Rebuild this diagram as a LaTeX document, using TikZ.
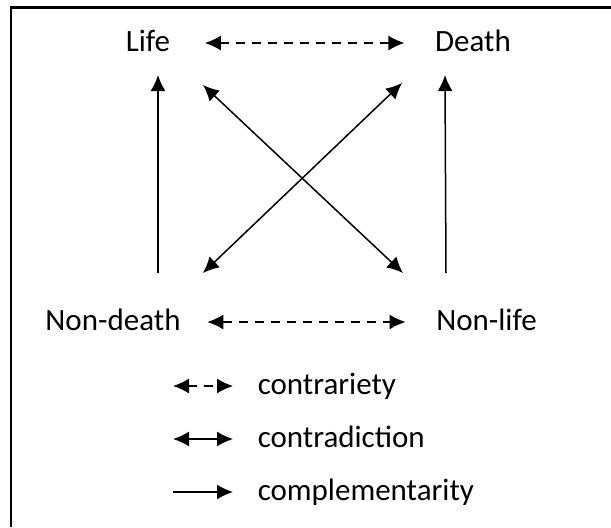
\documentclass[tikz,border=0pt]{standalone}
\usepackage{fontspec}
\setmainfont{Carlito}
\usetikzlibrary{arrows.meta}

\begin{document}
\begin{tikzpicture}[x=0.5pt, y=-0.5pt, line width=0.75pt, >={Latex[length=8pt,width=7.5pt]},
	every node/.style={font=\fontsize{15.5}{18}\selectfont, inner sep=0pt, text height=10pt, text depth=1.5pt},
	contrary/.style={<->, dash pattern=on 4.5pt off 3.5pt},
	contradict/.style={<->},
	compl/.style={->}]
	\useasboundingbox (0,0) rectangle (611,527);
	\draw [line width=1.1pt] (611,7.5) -- (11,7.5) -- (11,527);
	% square of opposition
	\node (life) at (148,43) {Life};
	\node (death) at (473,43) {Death};
	\node (nondeath) at (113,322) {Non-death};
	\node (nonlife) at (486.5,322) {Non-life};
	\draw [contrary, shorten <=17pt, shorten >=15pt] (life) to (death);
	\draw [contrary, shorten <=13pt, shorten >=15pt] (nondeath) to (nonlife);
	\draw [compl] ([shift={(45,-49)}]nondeath.center) to ([shift={(10,32)}]life.center);
	\draw [compl] ([shift={(-40.5,-49)}]nonlife.center) to ([shift={(-28,32)}]death.center);
	\draw [contradict] ([shift={(55,42)}]life.center) to ([shift={(-83.5,-49)}]nonlife.center);
	\draw [contradict] ([shift={(-71,40)}]death.center) to ([shift={(90,-49)}]nondeath.center);
	% legend
	\node [anchor=west] (keycontrary) at (257,386) {contrariety};
	\node [anchor=west] (keycontradict) at (257,439) {contradiction};
	\node [anchor=west] (keycompl) at (257,492) {complementarity};
	\coordinate (k1) at (173,386);
	\coordinate (k2) at (173,439);
	\coordinate (k3) at (173,492);
	\draw [contrary, shorten >=12pt] (k1) to (keycontrary);
	\draw [contradict, shorten >=12pt] (k2) to (keycontradict);
	\draw [compl, shorten >=12pt] (k3) to (keycompl);
\end{tikzpicture}
\end{document}
